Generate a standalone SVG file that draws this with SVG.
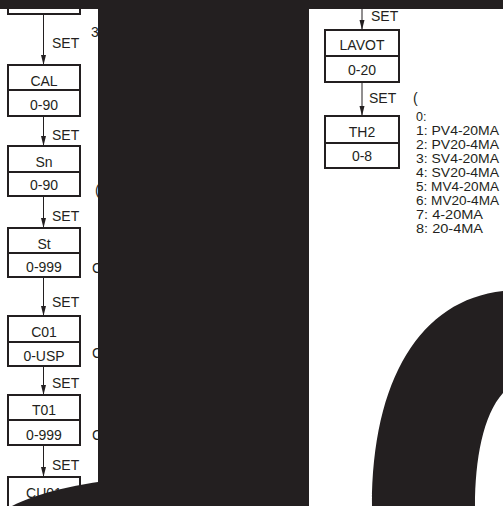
<svg xmlns="http://www.w3.org/2000/svg" width="503" height="506" viewBox="0 0 503 506">
<defs>
<style>
text{font-family:"Liberation Sans",Arial,sans-serif;font-size:14px;fill:#231f20}
.c{text-anchor:middle}
.l{font-size:12.5px}
.box{fill:#fff;stroke:#231f20;stroke-width:2}
.div{stroke:#231f20;stroke-width:2}
.arr{stroke:#231f20;stroke-width:1;fill:none;marker-end:url(#ah)}
.blk{fill:#231f20}
</style>
<marker id="ah" viewBox="0 0 10 6" refX="10" refY="3" markerWidth="10" markerHeight="6" markerUnits="userSpaceOnUse" orient="auto">
<path d="M0,0.5 L10,3 L0,5.5 Z" fill="#231f20"/>
</marker>
</defs>
<rect width="503" height="506" fill="#fff"/>

<g id="connectors">
<line class="arr" x1="43.5" y1="14" x2="43.5" y2="65"/>
<line class="arr" x1="43.5" y1="116" x2="43.5" y2="146"/>
<line class="arr" x1="43.5" y1="196" x2="43.5" y2="228"/>
<line class="arr" x1="43.5" y1="277" x2="43.5" y2="316"/>
<line class="arr" x1="43.5" y1="366" x2="43.5" y2="395"/>
<line class="arr" x1="43.5" y1="445" x2="43.5" y2="477"/>
<line class="arr" x1="362" y1="0" x2="362" y2="30"/>
<line class="arr" x1="362" y1="82" x2="362" y2="116"/>
<text x="52" y="48">SET</text>
<text x="52" y="140">SET</text>
<text x="52" y="221">SET</text>
<text x="52" y="307">SET</text>
<text x="52" y="388">SET</text>
<text x="52" y="470">SET</text>
<text x="371" y="21">SET</text>
<text x="369" y="103">SET</text>
</g>

<g id="node-top">
<rect class="box" x="8" y="-10" width="72" height="24"/>
</g>
<g id="node-CAL">
<rect class="box" x="8" y="65" width="72" height="51"/>
<line class="div" x1="8" y1="90" x2="81" y2="90"/>
<text class="c" x="44" y="86">CAL</text>
<text class="c" x="44" y="110">0-90</text>
</g>
<g id="node-Sn">
<rect class="box" x="8" y="146" width="72" height="50"/>
<line class="div" x1="8" y1="172" x2="81" y2="172"/>
<text class="c" x="44" y="167">Sn</text>
<text class="c" x="44" y="190">0-90</text>
</g>
<g id="node-St">
<rect class="box" x="8" y="228" width="72" height="49"/>
<line class="div" x1="8" y1="253" x2="81" y2="253"/>
<text class="c" x="44" y="249">St</text>
<text class="c" x="44" y="272">0-999</text>
</g>
<g id="node-C01">
<rect class="box" x="8" y="316" width="72" height="50"/>
<line class="div" x1="8" y1="342" x2="81" y2="342"/>
<text class="c" x="44" y="337">C01</text>
<text class="c" x="44" y="361">0-USP</text>
</g>
<g id="node-T01">
<rect class="box" x="8" y="395" width="72" height="50"/>
<line class="div" x1="8" y1="420" x2="81" y2="420"/>
<text class="c" x="44" y="415">T01</text>
<text class="c" x="44" y="440">0-999</text>
</g>
<g id="node-CU01">
<rect class="box" x="8" y="477" width="72" height="40"/>
<text class="c" x="44" y="498">CU01</text>
</g>

<g id="node-LAVOT">
<rect class="box" x="325" y="30" width="74" height="52"/>
<line class="div" x1="325" y1="56" x2="399" y2="56"/>
<text class="c" x="362" y="50">LAVOT</text>
<text class="c" x="362" y="75">0-20</text>
</g>
<g id="node-TH2">
<rect class="box" x="325" y="116" width="74" height="52"/>
<line class="div" x1="325" y1="143" x2="399" y2="143"/>
<text class="c" x="362" y="137">TH2</text>
<text class="c" x="362" y="161">0-8</text>
</g>

<g id="notes">
<text x="91" y="37">3</text>
<text x="95" y="195">(</text>
<text x="92" y="273">C</text>
<text x="92" y="358">C</text>
<text x="92" y="440">C</text>
<text x="413" y="103">(</text>
<text class="l" x="416" y="121">0:</text>
<text class="l" x="416" y="135" textLength="83" lengthAdjust="spacingAndGlyphs">1: PV4-20MA</text>
<text class="l" x="416" y="149" textLength="83" lengthAdjust="spacingAndGlyphs">2: PV20-4MA</text>
<text class="l" x="416" y="163" textLength="83" lengthAdjust="spacingAndGlyphs">3: SV4-20MA</text>
<text class="l" x="416" y="177" textLength="83" lengthAdjust="spacingAndGlyphs">4: SV20-4MA</text>
<text class="l" x="416" y="191" textLength="83" lengthAdjust="spacingAndGlyphs">5: MV4-20MA</text>
<text class="l" x="416" y="205" textLength="83" lengthAdjust="spacingAndGlyphs">6: MV20-4MA</text>
<text class="l" x="416" y="219" textLength="67" lengthAdjust="spacingAndGlyphs">7: 4-20MA</text>
<text class="l" x="416" y="233" textLength="67" lengthAdjust="spacingAndGlyphs">8: 20-4MA</text>
</g>

<g id="overlay">
<rect class="blk" x="0" y="0" width="503" height="9"/>
<rect class="blk" x="98" y="0" width="211" height="506"/>
<path class="blk" d="M98,482 C70,486 35,494 12,506 L98,506 Z"/>
<path class="blk" d="M503,291 C420,300 372,380 372,506 L475,506 C475,460 483,415 503,393 Z"/>
</g>
</svg>
